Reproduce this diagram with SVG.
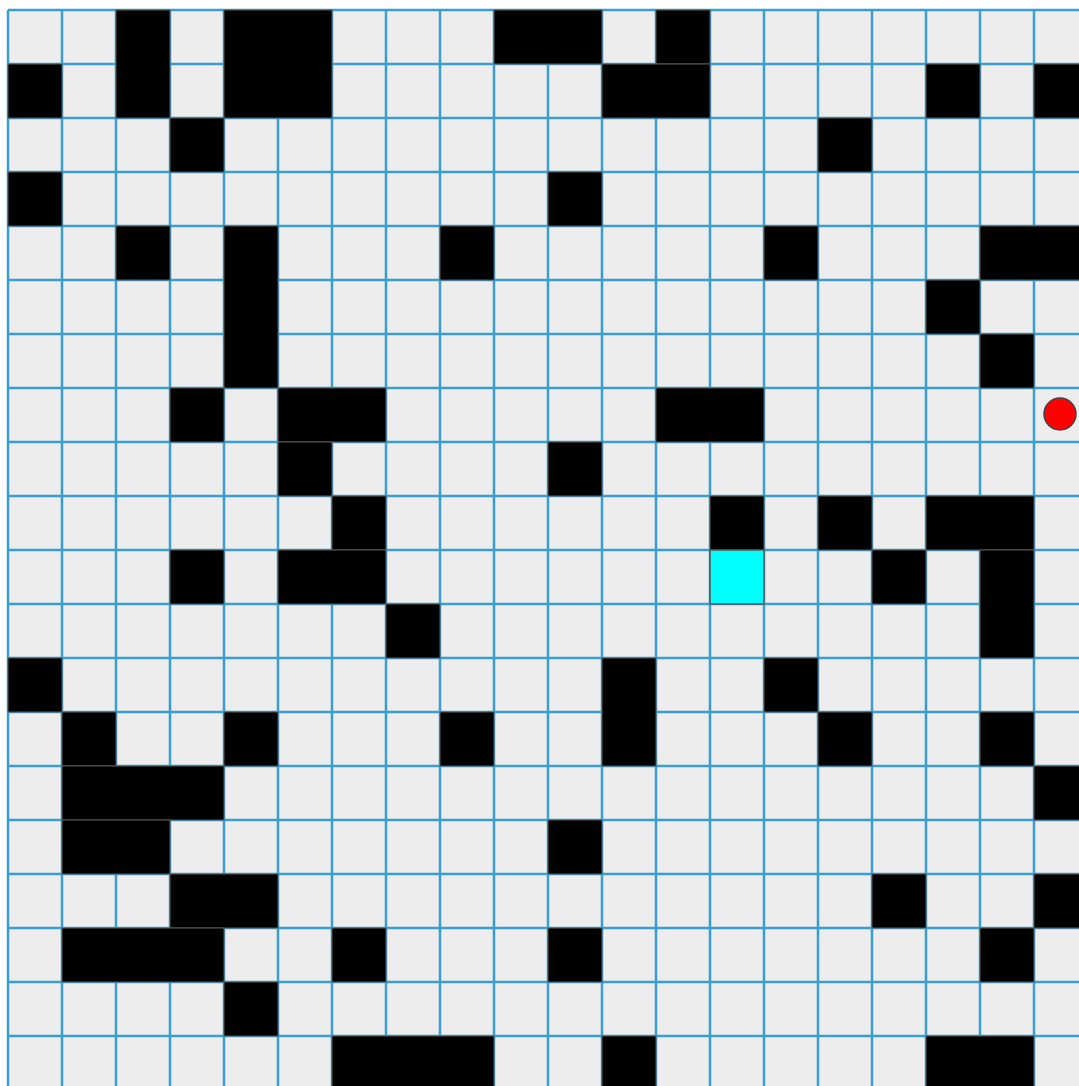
<svg xmlns="http://www.w3.org/2000/svg" width="1079" height="1086" viewBox="0 0 1079 1086">
<defs>
<style>
.bg{fill:#ededed}
.gl{stroke:#3a9fd0;stroke-width:2.5;fill:none}
.w{fill:#000;stroke:#5a5a5a;stroke-width:1}
.goal{fill:#00ffff;stroke:#555;stroke-width:1.5}
.agent{fill:#ff0000;stroke:#444;stroke-width:1.5}
</style>
</defs>
<rect width="1079" height="1086" fill="#fff"/>
<rect class="bg" x="8" y="10" width="1090" height="1090"/>
<g id="grid-lines">
<path class="gl" d="M8 10V1090M62 10V1090M116 10V1090M170 10V1090M224 10V1090M278 10V1090M332 10V1090M386 10V1090M440 10V1090M494 10V1090M548 10V1090M602 10V1090M656 10V1090M710 10V1090M764 10V1090M818 10V1090M872 10V1090M926 10V1090M980 10V1090M1034 10V1090"/>
<path class="gl" d="M8 10H1090M8 64H1090M8 118H1090M8 172H1090M8 226H1090M8 280H1090M8 334H1090M8 388H1090M8 442H1090M8 496H1090M8 550H1090M8 604H1090M8 658H1090M8 712H1090M8 766H1090M8 820H1090M8 874H1090M8 928H1090M8 982H1090M8 1036H1090"/>
</g>
<g id="walls">
<rect class="w" x="116" y="10" width="54" height="108"/>
<rect class="w" x="224" y="10" width="108" height="108"/>
<rect class="w" x="494" y="10" width="108" height="54"/>
<rect class="w" x="656" y="10" width="54" height="54"/>
<rect class="w" x="8" y="64" width="54" height="54"/>
<rect class="w" x="602" y="64" width="108" height="54"/>
<rect class="w" x="926" y="64" width="54" height="54"/>
<rect class="w" x="1034" y="64" width="54" height="54"/>
<rect class="w" x="170" y="118" width="54" height="54"/>
<rect class="w" x="818" y="118" width="54" height="54"/>
<rect class="w" x="8" y="172" width="54" height="54"/>
<rect class="w" x="548" y="172" width="54" height="54"/>
<rect class="w" x="116" y="226" width="54" height="54"/>
<rect class="w" x="224" y="226" width="54" height="162"/>
<rect class="w" x="440" y="226" width="54" height="54"/>
<rect class="w" x="764" y="226" width="54" height="54"/>
<rect class="w" x="980" y="226" width="108" height="54"/>
<rect class="w" x="926" y="280" width="54" height="54"/>
<rect class="w" x="980" y="334" width="54" height="54"/>
<rect class="w" x="170" y="388" width="54" height="54"/>
<rect class="w" x="278" y="388" width="108" height="54"/>
<rect class="w" x="656" y="388" width="108" height="54"/>
<rect class="w" x="278" y="442" width="54" height="54"/>
<rect class="w" x="548" y="442" width="54" height="54"/>
<rect class="w" x="332" y="496" width="54" height="54"/>
<rect class="w" x="710" y="496" width="54" height="54"/>
<rect class="w" x="818" y="496" width="54" height="54"/>
<rect class="w" x="926" y="496" width="108" height="54"/>
<rect class="w" x="170" y="550" width="54" height="54"/>
<rect class="w" x="278" y="550" width="108" height="54"/>
<rect class="w" x="872" y="550" width="54" height="54"/>
<rect class="w" x="980" y="550" width="54" height="108"/>
<rect class="w" x="386" y="604" width="54" height="54"/>
<rect class="w" x="8" y="658" width="54" height="54"/>
<rect class="w" x="602" y="658" width="54" height="108"/>
<rect class="w" x="764" y="658" width="54" height="54"/>
<rect class="w" x="62" y="712" width="54" height="54"/>
<rect class="w" x="224" y="712" width="54" height="54"/>
<rect class="w" x="440" y="712" width="54" height="54"/>
<rect class="w" x="818" y="712" width="54" height="54"/>
<rect class="w" x="980" y="712" width="54" height="54"/>
<rect class="w" x="62" y="766" width="162" height="54"/>
<rect class="w" x="1034" y="766" width="54" height="54"/>
<rect class="w" x="62" y="820" width="108" height="54"/>
<rect class="w" x="548" y="820" width="54" height="54"/>
<rect class="w" x="170" y="874" width="108" height="54"/>
<rect class="w" x="872" y="874" width="54" height="54"/>
<rect class="w" x="1034" y="874" width="54" height="54"/>
<rect class="w" x="62" y="928" width="162" height="54"/>
<rect class="w" x="332" y="928" width="54" height="54"/>
<rect class="w" x="548" y="928" width="54" height="54"/>
<rect class="w" x="980" y="928" width="54" height="54"/>
<rect class="w" x="224" y="982" width="54" height="54"/>
<rect class="w" x="332" y="1036" width="162" height="54"/>
<rect class="w" x="602" y="1036" width="54" height="54"/>
<rect class="w" x="926" y="1036" width="108" height="54"/>
</g>
<g id="goal">
<rect class="goal" x="710" y="550" width="54" height="54"/>
</g>
<g id="agent">
<circle class="agent" cx="1060" cy="414" r="16"/>
</g>
</svg>
